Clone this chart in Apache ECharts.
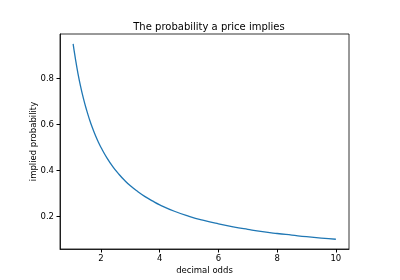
<!DOCTYPE html>
<html>
<head>
<meta charset="utf-8">
<script src="https://cdn.jsdelivr.net/npm/echarts@6/dist/echarts.min.js"></script>
<style>
  html, body { margin: 0; padding: 0; background: #fff; }
  #main { width: 400px; height: 280px; }
</style>
</head>
<body>
<div id="main"></div>
<script>
// decimal odds and the implied probability
var odds = [1.05, 1.1, 1.15, 1.2, 1.3, 1.4, 1.5, 1.6, 1.7, 1.8, 1.9, 2.0, 2.2, 2.4, 2.6, 2.8, 3.0, 3.25, 3.5, 3.75, 4.0, 4.5, 5.0, 5.5, 6.0, 6.5, 7.0, 7.5, 8.0, 8.5, 9.0, 9.5, 10.0];
var prob = [0.952, 0.909, 0.870, 0.833, 0.769, 0.714, 0.667, 0.625, 0.588, 0.556, 0.526, 0.500, 0.455, 0.417, 0.385, 0.357, 0.333, 0.308, 0.286, 0.267, 0.250, 0.222, 0.200, 0.182, 0.167, 0.154, 0.143, 0.133, 0.125, 0.118, 0.111, 0.105, 0.100];
var xTicks = [2, 4, 6, 8, 10];
var yTicks = [0.2, 0.4, 0.6, 0.8];

var points = [];
for (var i = 0; i < odds.length; i++) {
  points.push([odds[i], prob[i]]);
}

var chart = echarts.init(document.getElementById('main'), null, { renderer: 'canvas' });
var font = 'DejaVu Sans';

option = {
  animation: false,
  title: {
    text: 'The probability a price implies',
    left: 204, top: 17, textAlign: 'center',
    textStyle: { fontFamily: font, fontSize: 10, fontWeight: 'normal', color: '#000' }
  },
  grid: {
    left: 60, right: 51, top: 34, bottom: 31,
    outerBoundsMode: 'none',
    show: true, borderColor: '#000', borderWidth: 0.8
  },
  xAxis: {
    type: 'value',
    min: 0.6025, max: 10.4475,
    name: 'decimal odds', nameLocation: 'middle', nameGap: 17,
    nameMoveOverlap: false,
    nameTextStyle: { fontFamily: font, fontSize: 8.5, color: '#000' },
    axisLine: { lineStyle: { color: '#000', width: 0.8 } },
    axisTick: { inside: false, length: 3.5, customValues: xTicks, lineStyle: { color: '#000' } },
    axisLabel: { customValues: xTicks, fontFamily: font, fontSize: 8.5, color: '#000', margin: 5 },
    splitLine: { show: false }
  },
  yAxis: {
    type: 'value',
    min: 0.0574, max: 0.995,
    name: 'implied probability', nameLocation: 'middle', nameGap: 22,
    nameMoveOverlap: false,
    nameTextStyle: { fontFamily: font, fontSize: 8.5, color: '#000' },
    axisLine: { show: true, lineStyle: { color: '#000', width: 0.8 } },
    axisTick: { show: true, inside: false, length: 3.5, customValues: yTicks, lineStyle: { color: '#000' } },
    axisLabel: { customValues: yTicks, fontFamily: font, fontSize: 8.5, color: '#000', margin: 6,
      formatter: function (v) { return v.toFixed(1); } },
    splitLine: { show: false }
  },
  series: [{
    type: 'line',
    data: points,
    smooth: true,
    showSymbol: false,
    lineStyle: { color: '#1f77b4', width: 1.3 }
  }]
};

chart.setOption(option);
</script>
</body>
</html>
